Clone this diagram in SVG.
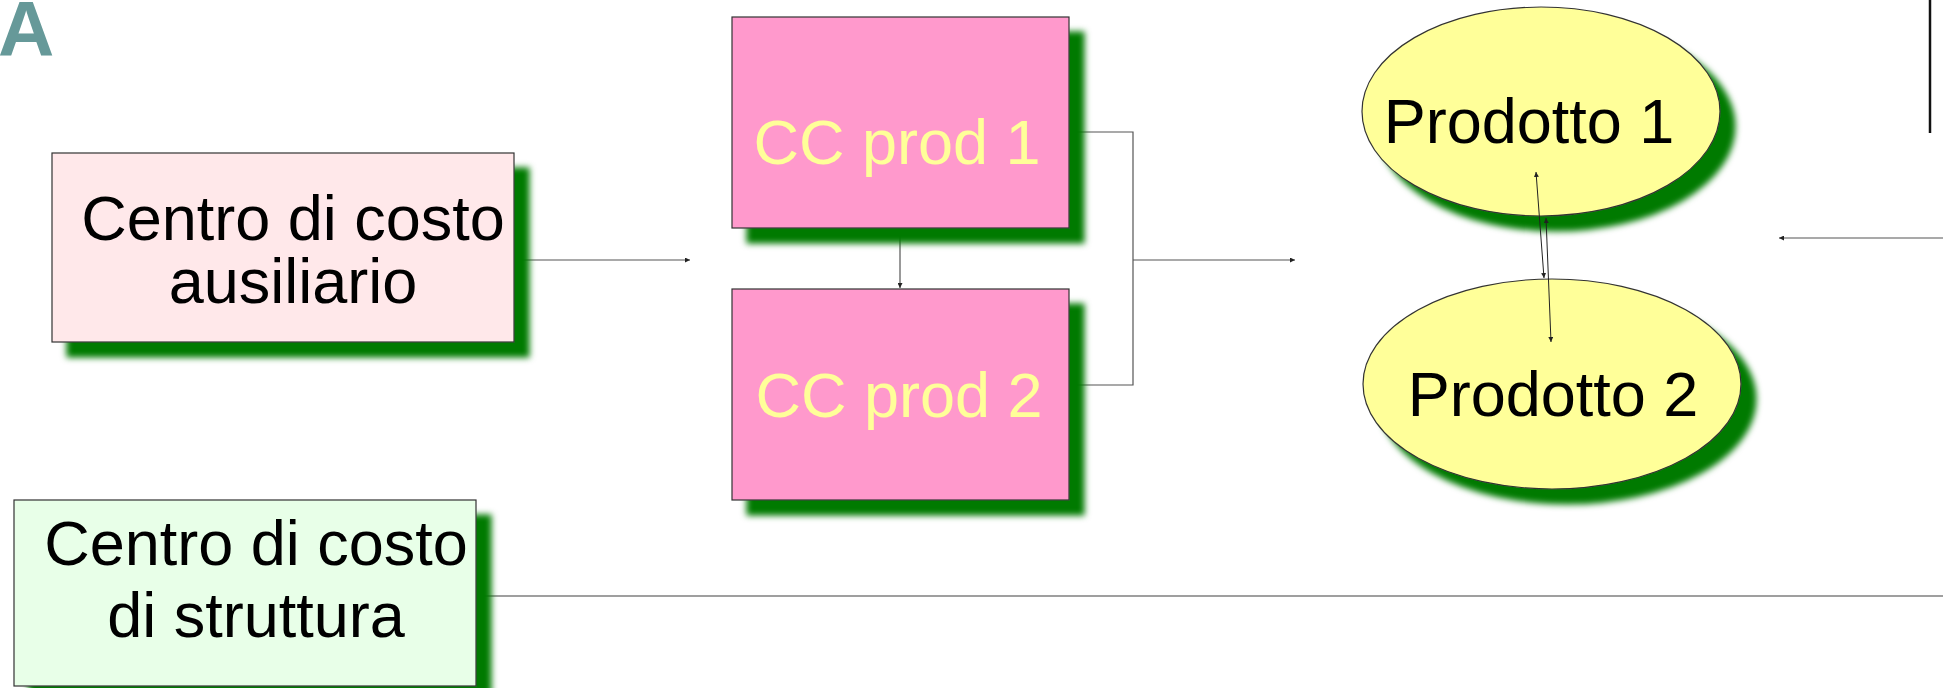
<svg xmlns="http://www.w3.org/2000/svg" width="1943" height="688" viewBox="0 0 1943 688">
  <style>
    .lbl { font-family: "Liberation Sans", Arial, sans-serif; font-size: 63px; text-anchor: middle; }
    .dark { fill: #000000; }
    .light { fill: #FFFF99; }
    .box { stroke: #333333; stroke-width: 1.2; }
    .conn { fill: none; stroke: #555555; stroke-width: 1.2; }
    .thin { fill: none; stroke: #222222; stroke-width: 1; }
  </style>
  <defs>
    <filter id="drop" x="-10%" y="-10%" width="130%" height="140%">
      <feGaussianBlur in="SourceAlpha" stdDeviation="3" result="blur"/>
      <feOffset in="blur" dx="15" dy="15" result="off"/>
      <feFlood flood-color="#007A00"/>
      <feComposite operator="in" in2="off"/>
      <feMerge>
        <feMergeNode/>
        <feMergeNode in="SourceGraphic"/>
      </feMerge>
    </filter>
    <marker id="tip" viewBox="0 0 6 6" refX="6" refY="3" markerWidth="5" markerHeight="5" orient="auto-start-reverse" markerUnits="userSpaceOnUse">
      <path d="M0,0 L6,3 L0,6 z" fill="#222222"/>
    </marker>
  </defs>

  <rect width="1943" height="688" fill="#FFFFFF"/>

  <!-- panel letter -->
  <text x="-2" y="56" font-family="Liberation Sans, Arial, sans-serif" font-size="78" font-weight="bold" fill="#669999">A</text>

  <!-- connectors -->
  <g id="connectors">
    <line class="conn" x1="514" y1="260" x2="690" y2="260" marker-end="url(#tip)"/>
    <line class="conn" x1="900" y1="229" x2="900" y2="288" marker-start="url(#tip)" marker-end="url(#tip)"/>
    <polyline class="conn" points="1069,132 1133,132 1133,385 1069,385"/>
    <line class="conn" x1="1133" y1="260" x2="1295" y2="260" marker-end="url(#tip)"/>
    <line class="conn" x1="1943" y1="238" x2="1779" y2="238" marker-end="url(#tip)"/>
    <line x1="1930" y1="0" x2="1930" y2="133" stroke="#111111" stroke-width="2.5"/>
    <line x1="476" y1="596" x2="1943" y2="596" stroke="#7F7F7F" stroke-width="1.5"/>
  </g>

  <!-- auxiliary cost centre -->
  <g id="centro-ausiliario">
    <rect class="box" x="52" y="153" width="462" height="189" fill="#FFE8EA" filter="url(#drop)"/>
    <text class="lbl dark" x="293" y="240">Centro di costo</text>
    <text class="lbl dark" x="293" y="303">ausiliario</text>
  </g>

  <!-- production cost centres -->
  <g id="cc-prod-1">
    <rect class="box" x="732" y="17" width="337" height="211" fill="#FF99CC" filter="url(#drop)"/>
    <text class="lbl light" x="897" y="164">CC prod 1</text>
  </g>
  <g id="cc-prod-2">
    <rect class="box" x="732" y="289" width="337" height="211" fill="#FF99CC" filter="url(#drop)"/>
    <text class="lbl light" x="899" y="417">CC prod 2</text>
  </g>

  <!-- products -->
  <g id="prodotto-1">
    <ellipse class="box" cx="1541" cy="111.5" rx="179" ry="104.5" fill="#FFFF99" filter="url(#drop)"/>
    <text class="lbl dark" x="1529" y="143">Prodotto 1</text>
  </g>
  <g id="prodotto-2">
    <ellipse class="box" cx="1552" cy="384" rx="189" ry="105" fill="#FFFF99" filter="url(#drop)"/>
    <text class="lbl dark" x="1553" y="416">Prodotto 2</text>
  </g>

  <!-- structural cost centre -->
  <g id="centro-struttura">
    <rect class="box" x="14" y="500" width="462" height="186" fill="#E8FFE8" filter="url(#drop)"/>
    <text class="lbl dark" x="256" y="565">Centro di costo</text>
    <text class="lbl dark" x="256" y="637">di struttura</text>
  </g>

  <!-- links between the two products, drawn over the ellipses -->
  <g id="connectors-products">
    <line class="thin" x1="1536" y1="172" x2="1544" y2="278" marker-start="url(#tip)" marker-end="url(#tip)"/>
    <line class="thin" x1="1546" y1="218" x2="1551" y2="342" marker-start="url(#tip)" marker-end="url(#tip)"/>
  </g>
</svg>
